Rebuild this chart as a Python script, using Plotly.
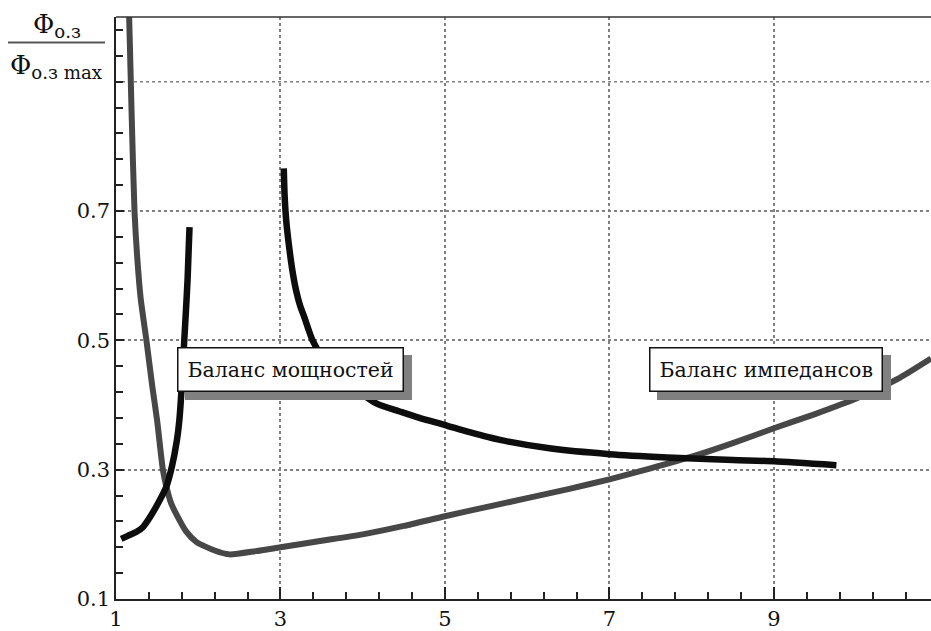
import plotly.graph_objects as go

# Gray curve
gray_x = [1.16, 1.19, 1.225, 1.26, 1.30, 1.37, 1.44, 1.50, 1.57, 1.62, 1.67, 1.73, 1.85, 1.98, 2.2, 2.38, 2.7, 3.0, 3.5, 4.0, 4.5, 5.0, 5.5, 6.0, 6.5, 7.0, 7.5, 8.0, 8.5, 9.0, 9.5, 10.0, 10.5, 10.91]
gray_y = [1.00, 0.85, 0.70, 0.625, 0.565, 0.50, 0.43, 0.376, 0.30, 0.27, 0.248, 0.232, 0.205, 0.188, 0.175, 0.169, 0.174, 0.180, 0.190, 0.200, 0.213, 0.228, 0.242, 0.256, 0.270, 0.285, 0.302, 0.320, 0.341, 0.364, 0.386, 0.410, 0.440, 0.472]

# Black curve, left branch
b1_x = [1.063, 1.15, 1.25, 1.326, 1.42, 1.52, 1.61, 1.68, 1.74, 1.77, 1.80, 1.83, 1.85, 1.87, 1.882, 1.894]
b1_y = [0.193, 0.198, 0.204, 0.211, 0.228, 0.250, 0.273, 0.305, 0.345, 0.376, 0.43, 0.50, 0.545, 0.593, 0.635, 0.675]

# Black curve, right branch
b2_x = [3.04, 3.05, 3.07, 3.10, 3.14, 3.19, 3.24, 3.29, 3.34, 3.39, 3.50, 3.70, 3.95, 4.17, 4.45, 4.69, 5.0, 5.3, 5.67, 6.27, 7.0, 7.7, 8.5, 9.0, 9.76]
b2_y = [0.766, 0.725, 0.685, 0.650, 0.612, 0.577, 0.553, 0.536, 0.517, 0.500, 0.476, 0.447, 0.421, 0.402, 0.390, 0.380, 0.369, 0.358, 0.346, 0.333, 0.324, 0.319, 0.315, 0.313, 0.307]

x_ticks = [1, 3, 5, 7, 9]
y_ticks = [0.1, 0.3, 0.5, 0.7]
y_grid_extra = [0.9]

labels = [
    dict(text="Баланс мощностей", x=3.12, y=0.455),
    dict(text="Баланс импедансов", x=8.905, y=0.455),
]

FONT = "DejaVu Serif"

fig = go.Figure()
fig.add_trace(go.Scatter(x=gray_x, y=gray_y, mode="lines",
                         line=dict(color="#474747", width=6, shape="spline", smoothing=0.6),
                         hoverinfo="skip", showlegend=False))
fig.add_trace(go.Scatter(x=b1_x, y=b1_y, mode="lines",
                         line=dict(color="#0d0d0d", width=6.5, shape="spline", smoothing=0.6),
                         hoverinfo="skip", showlegend=False))
fig.add_trace(go.Scatter(x=b2_x, y=b2_y, mode="lines",
                         line=dict(color="#0d0d0d", width=6.5, shape="spline", smoothing=0.6),
                         hoverinfo="skip", showlegend=False))

annotations = []
for lab in labels:
    annotations.append(dict(x=lab["x"], y=lab["y"], xref="x", yref="y", text=lab["text"],
                            showarrow=False, font=dict(family=FONT, size=20.5, color="#808080"),
                            bgcolor="#808080", bordercolor="#808080", borderwidth=1.5,
                            borderpad=9, xshift=8, yshift=-8))
    annotations.append(dict(x=lab["x"], y=lab["y"], xref="x", yref="y", text=lab["text"],
                            showarrow=False, font=dict(family=FONT, size=20.5, color="#111111"),
                            bgcolor="white", bordercolor="#111111", borderwidth=1.5,
                            borderpad=9))

annotations.append(dict(x=-0.0724, y=0.985, xref="paper", yref="paper",
                        text="Φ<sub>о.з</sub>", showarrow=False,
                        font=dict(family=FONT, size=26, color="#111111"),
                        xanchor="center", yanchor="middle"))
annotations.append(dict(x=-0.0724, y=0.915, xref="paper", yref="paper",
                        text="Φ<sub>о.з max</sub>", showarrow=False,
                        font=dict(family=FONT, size=26, color="#111111"),
                        xanchor="center", yanchor="middle"))

shapes = [
    dict(type="line", xref="paper", yref="paper", x0=-0.1325, x1=-0.0135, y0=0.956, y1=0.956,
         line=dict(color="#555555", width=2)),
    dict(type="line", xref="paper", yref="paper", x0=0, x1=1, y0=1, y1=1,
         line=dict(color="#333333", width=1.5)),
]
for gy in y_grid_extra:
    shapes.append(dict(type="line", xref="paper", yref="y", x0=0, x1=1, y0=gy, y1=gy,
                       line=dict(color="#808080", width=1.5, dash="dot"), layer="below"))

fig.update_layout(
    width=931, height=631,
    margin=dict(l=116, r=0, t=17, b=32),
    paper_bgcolor="white", plot_bgcolor="white",
    annotations=annotations, shapes=shapes,
    font=dict(family=FONT, size=21, color="#111111"),
    xaxis=dict(range=[1, 10.91], tickvals=x_ticks, ticktext=[str(v) for v in x_ticks],
               showgrid=True, gridcolor="#808080", griddash="dot", gridwidth=1.5,
               showline=True, linecolor="#222222", linewidth=1.5,
               ticks="inside", ticklen=12, tickcolor="#222222", tickwidth=1.5,
               minor=dict(dtick=0.4, tick0=1, ticks="inside", ticklen=7, tickcolor="#222222", showgrid=False),
               zeroline=False, tickfont=dict(family=FONT, size=21, color="#111111")),
    yaxis=dict(range=[0.1, 1.0], tickvals=y_ticks, ticktext=[str(v) for v in y_ticks],
               showgrid=True, gridcolor="#808080", griddash="dot", gridwidth=1.5,
               showline=True, linecolor="#222222", linewidth=1.5,
               ticks="inside", ticklen=8, tickcolor="#222222", tickwidth=1.5,
               minor=dict(dtick=0.04, tick0=0.1, ticks="inside", ticklen=7, tickcolor="#222222", showgrid=False),
               zeroline=False, tickfont=dict(family=FONT, size=21, color="#111111")),
)

fig.write_html("out.html")
